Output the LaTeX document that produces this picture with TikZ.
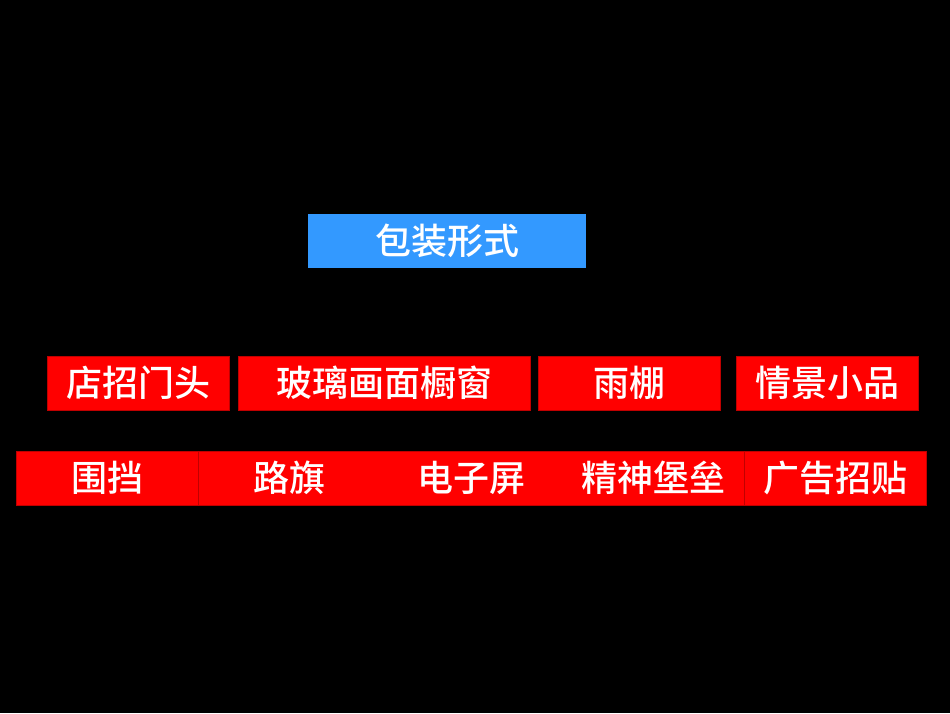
\documentclass[tikz,border=0pt]{standalone}
\usepackage{fontspec}
\newfontfamily\cjk{Noto Sans CJK SC Medium}
\definecolor{boxred}{HTML}{FF0000}
\definecolor{edgered}{HTML}{C00000}
\definecolor{boxblue}{HTML}{3399FF}
\begin{document}
\begin{tikzpicture}[x=1pt,y=-1pt,
  lbl/.style={rectangle,inner sep=0pt,minimum height=54pt,text=white,
    font=\cjk\fontsize{36}{40}\selectfont},
  redbox/.style={lbl,fill=boxred,draw=edgered,line width=0.6pt},
  flatbox/.style={lbl,fill=boxred,draw=none},
  bluebox/.style={lbl,fill=boxblue,draw=none},
  divider/.style={draw=edgered,line width=0.6pt}]
\fill[black] (0,0) rectangle (950,713);
\useasboundingbox (0,0) rectangle (950,713);
\node[bluebox,minimum width=278pt] (top) at (447,241) {包装形式};
\node[redbox,minimum width=182pt] (a1) at (138,383) {店招门头};
\node[redbox,minimum width=292pt] (a2) at (384,383) {玻璃画面橱窗};
\node[redbox,minimum width=182pt] (a3) at (629,383) {雨棚};
\node[redbox,minimum width=182pt] (a4) at (827,383) {情景小品};
\node[flatbox,minimum width=182pt] (b1) at (107,478) {围挡};
\node[flatbox,minimum width=182pt] (b2) at (289,478) {路旗};
\node[flatbox,minimum width=182pt] (b3) at (471,478) {电子屏};
\node[flatbox,minimum width=182pt] (b4) at (653,478) {精神堡垒};
\node[flatbox,minimum width=182pt] (b5) at (835,478) {广告招贴};
\draw[divider] (b1.north west) rectangle (b5.south east);
\draw[divider] (b1.north east) -- (b1.south east);
\draw[divider] (b5.north west) -- (b5.south west);
\end{tikzpicture}
\end{document}
